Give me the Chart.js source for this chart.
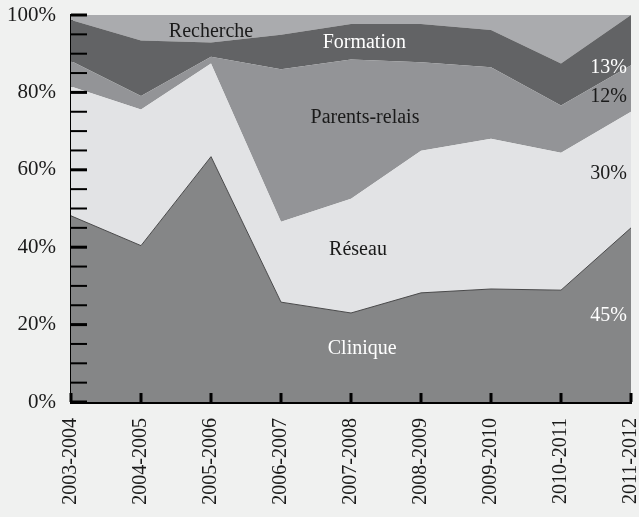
<!DOCTYPE html>
<html>
<head>
<meta charset="utf-8">
<script src="https://cdn.jsdelivr.net/npm/chart.js@4/dist/chart.umd.min.js"></script>
<style>
  html, body { margin: 0; padding: 0; background: #f0f1f0; }
  #wrap { width: 639px; height: 517px; }
</style>
</head>
<body>
<div id="wrap"><canvas id="chart"></canvas></div>
<script>
const years = ['2003-2004','2004-2005','2005-2006','2006-2007','2007-2008','2008-2009','2009-2010','2010-2011','2011-2012'];
const clinique   = [48.1, 40.4, 63.4, 25.8, 23.0, 28.2, 29.2, 28.9, 45.0];
const reseau     = [33.4, 35.2, 24.1, 20.8, 29.5, 36.7, 38.8, 35.5, 30.0];
const parents    = [6.6, 3.5, 1.7, 39.4, 36.0, 22.9, 18.5, 12.2, 12.0];
const formation  = [10.6, 14.3, 3.7, 8.9, 9.2, 9.9, 9.6, 10.9, 13.0];
const recherche  = [1.3, 6.6, 7.1, 5.1, 2.3, 2.3, 3.9, 12.5, 0];

// in-chart labels: [text, x index, y value, colour, align]
const areaLabels = [
  ['Recherche', 2, 95.6, '#1a1a1a', 'center'],
  ['Formation', 4.19, 92.8, '#ffffff', 'center'],
  ['Parents-relais', 4.2, 73.4, '#1a1a1a', 'center'],
  ['Réseau', 4.1, 39.3, '#1a1a1a', 'center'],
  ['Clinique', 4.16, 13.7, '#ffffff', 'center'],
  ['13%', 8, 86.3, '#ffffff', 'right'],
  ['12%', 8, 78.8, '#1a1a1a', 'right'],
  ['30%', 8, 58.9, '#1a1a1a', 'right'],
  ['45%', 8, 22.2, '#ffffff', 'right']
];

const FONT = '"Liberation Serif", "DejaVu Serif", serif';

const insideTicks = {
  id: 'insideTicks',
  afterDraw(chart) {
    const ctx = chart.ctx;
    const x = chart.scales.x, y = chart.scales.y;
    const left = chart.chartArea.left, bottom = chart.chartArea.bottom;
    ctx.save();
    ctx.strokeStyle = '#000';
    y.ticks.forEach(t => {
      const py = y.getPixelForValue(t.value);
      ctx.lineWidth = t.value % 20 === 0 ? 3 : 2;
      ctx.beginPath();
      ctx.moveTo(left, py);
      ctx.lineTo(left + 16, py);
      ctx.stroke();
    });
    ctx.lineWidth = 3;
    years.forEach((_, i) => {
      const px = x.getPixelForValue(i);
      ctx.beginPath();
      ctx.moveTo(px, bottom);
      ctx.lineTo(px, bottom - 9);
      ctx.stroke();
    });
    ctx.font = '20px ' + FONT;
    ctx.textBaseline = 'middle';
    areaLabels.forEach(([txt, xi, yv, col, al]) => {
      ctx.fillStyle = col;
      ctx.textAlign = al;
      let px = x.getPixelForValue(xi);
      if (al === 'right') px -= 4;
      ctx.fillText(txt, px, y.getPixelForValue(yv));
    });
    ctx.restore();
  }
};

new Chart(document.getElementById('chart'), {
  type: 'line',
  data: {
    labels: years,
    datasets: [
      { label: 'Clinique', data: clinique, backgroundColor: '#858687', borderColor: '#4a4a4b', borderWidth: 1, fill: 'origin' },
      { label: 'Réseau', data: reseau, backgroundColor: '#e2e3e5', borderWidth: 0, fill: '-1' },
      { label: 'Parents-relais', data: parents, backgroundColor: '#939497', borderWidth: 0, fill: '-1' },
      { label: 'Formation', data: formation, backgroundColor: '#626365', borderWidth: 0, fill: '-1' },
      { label: 'Recherche', data: recherche, backgroundColor: '#aaabae', borderWidth: 0, fill: '-1' }
    ]
  },
  options: {
    responsive: true,
    maintainAspectRatio: false,
    animation: false,
    layout: { padding: { top: 15, right: 8, left: 0, bottom: 0 } },
    elements: { point: { radius: 0 }, line: { tension: 0 } },
    plugins: { legend: { display: false }, tooltip: { enabled: false } },
    scales: {
      x: {
        offset: false,
        grid: { display: false },
        border: { display: true, color: '#000', width: 3 },
        ticks: { minRotation: 90, maxRotation: 90, color: '#1a1a1a', font: { family: FONT, size: 20 }, padding: 8, autoSkip: false },
        afterFit(s) { s.height = 115; s.paddingLeft = 0; s.paddingRight = 0; }
      },
      y: {
        stacked: true,
        min: 0, max: 100,
        grid: { display: false },
        border: { display: true, color: '#000', width: 3 },
        ticks: {
          stepSize: 5,
          autoSkip: false,
          color: '#1a1a1a',
          font: { family: FONT, size: 21 },
          padding: 7,
          callback: v => v % 20 === 0 ? v + '%' : ''
        },
        afterFit(s) { s.width = 71; s.paddingTop = 0; s.paddingBottom = 0; }
      }
    }
  },
  plugins: [insideTicks]
});
</script>
</body>
</html>
